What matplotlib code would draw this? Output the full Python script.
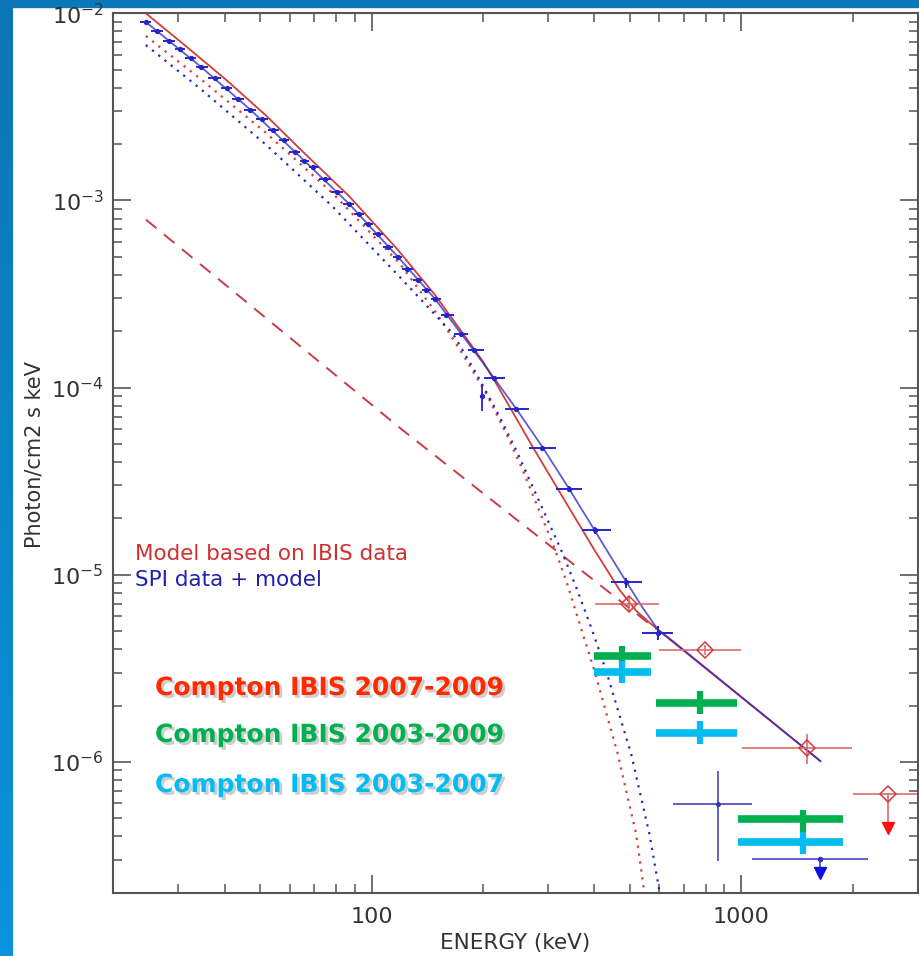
import numpy as np
import matplotlib
matplotlib.use('Agg')
import matplotlib.pyplot as plt
import matplotlib.patheffects as pe
from matplotlib.patches import Rectangle
from matplotlib.colors import LinearSegmentedColormap
from matplotlib.ticker import FuncFormatter, NullFormatter, LogLocator

# SPI spectrum: bin centres (keV), flux (photon/cm2 s keV), relative error
spi_e = [24.5, 26.2, 28.3, 30.3, 32.4, 34.5, 37.7, 40.5, 43.6, 47.0, 50.5, 54.1,
         57.9, 62.0, 65.7, 69.5, 74.6, 80.6, 86.9, 92.4, 97.8, 104, 110.5, 117.6,
         124.6, 133.5, 140.6, 148.1, 159.3, 174.8, 188.8, 214, 245, 289, 342, 403,
         488, 594]
spi_f = [8.98e-3, 8.04e-3, 7.13e-3, 6.42e-3, 5.74e-3, 5.18e-3, 4.52e-3, 3.99e-3,
         3.49e-3, 3.05e-3, 2.71e-3, 2.38e-3, 2.10e-3, 1.82e-3, 1.63e-3, 1.50e-3,
         1.30e-3, 1.115e-3, 9.58e-4, 8.51e-4, 7.48e-4, 6.58e-4, 5.67e-4, 5.01e-4,
         4.30e-4, 3.74e-4, 3.31e-4, 2.99e-4, 2.43e-4, 1.94e-4, 1.58e-4, 1.128e-4,
         7.70e-5, 4.76e-5, 2.87e-5, 1.73e-5, 9.09e-6, 4.91e-6]
spi_rerr = [0.015] * 31 + [0.02, 0.025, 0.03, 0.035, 0.04, 0.06, 0.09]

# odd SPI point near 200 keV (no energy bar)
spi_odd_e = 199
spi_odd_f = 9.07e-5
spi_odd_flo, spi_odd_fhi = 7.54e-5, 1.05e-4

# high energy SPI points
spi_hi_e = 863
spi_hi_elo, spi_hi_ehi = 652, 1070
spi_hi_f = 5.97e-7
spi_hi_flo, spi_hi_fhi = 2.95e-7, 8.94e-7
spi_ul_e = 1636
spi_ul_elo, spi_ul_ehi = 1072, 2196
spi_ul_f = 3.03e-7
spi_ul_tip = 2.55e-7

# IBIS points
ibis_e = [498, 798, 1502]
ibis_elo = [401, 599, 1002]
ibis_ehi = [598, 998, 1993]
ibis_f = [6.97e-6, 3.97e-6, 1.187e-6]
ibis_flo = [6.42e-6, 3.73e-6, 9.71e-7]
ibis_fhi = [7.56e-6, 4.22e-6, 1.406e-6]
ibis_ul_e = 2498
ibis_ul_elo, ibis_ul_ehi = 2000, 3200
ibis_ul_f = 6.71e-7
ibis_ul_tip = 4.41e-7

# Compton mode bins
comp_e = [476, 774, 1465]
comp_elo = [400, 586, 977]
comp_ehi = [568, 972, 1879]
comp_green = [3.66e-6, 2.07e-6, 4.93e-7]
comp_green_lo = [3.33e-6, 1.81e-6, 4.23e-7]
comp_green_hi = [4.17e-6, 2.39e-6, 5.51e-7]
comp_cyan = [3.04e-6, 1.42e-6, 3.74e-7]
comp_cyan_lo = [2.65e-6, 1.25e-6, 3.20e-7]
comp_cyan_hi = [3.47e-6, 1.655e-6, 4.23e-7]

# model curves
ibis_model_e = [24.5, 30.3, 40.5, 52.0, 65.7, 86.9, 117.6, 148.1, 174.8, 200,
                217.4, 273.0, 329.0, 396.6, 468.2, 520, 564.4, 620, 1636]
ibis_model_f = [1.0e-2, 7.09e-3, 4.39e-3, 2.82e-3, 1.79e-3, 1.054e-3, 5.46e-4,
                3.14e-4, 2.0e-4, 1.38e-4, 1.048e-4, 4.80e-5, 2.59e-5, 1.40e-5,
                8.3e-6, 6.4e-6, 5.55e-6, 4.75e-6, 1.01e-6]
spi_model_e = [24.5, 34.5, 47.0, 62.0, 86.9, 117.6, 148.1, 188.8, 214, 245, 289,
               342, 403, 450, 488, 540, 594, 650, 1636]
spi_model_f = [8.98e-3, 5.18e-3, 3.05e-3, 1.82e-3, 9.58e-4, 5.01e-4, 2.99e-4,
               1.58e-4, 1.128e-4, 7.8e-5, 4.85e-5, 2.88e-5, 1.70e-5, 1.19e-5,
               9.2e-6, 6.7e-6, 5.1e-6, 4.45e-6, 1.01e-6]
ibis_comp_e = [24.5, 34.3, 52.0, 78.6, 119.1, 149.7, 176.6, 204.3, 231.4, 256.6,
               281.6, 309.2, 336.0, 369.0, 400.8, 463.4, 519.6, 547.0]
ibis_comp_f = [7.56e-3, 4.49e-3, 2.28e-3, 1.088e-3, 4.60e-4, 2.50e-4, 1.50e-4,
               9.26e-5, 5.66e-5, 3.60e-5, 2.29e-5, 1.46e-5, 9.29e-6, 5.12e-6,
               3.06e-6, 1.098e-6, 4.10e-7, 1.99e-7]
spi_comp_e = [24.5, 34.3, 52.0, 78.6, 119.1, 165.9, 192.0, 217.4, 246.2, 273.0,
              299.8, 329.0, 357.6, 392.6, 431.0, 503.6, 564.4, 598.2, 602.6]
spi_comp_f = [6.77e-3, 3.97e-3, 1.97e-3, 9.23e-4, 3.90e-4, 1.94e-4, 1.185e-4,
              7.54e-5, 4.61e-5, 2.93e-5, 1.945e-5, 1.29e-5, 8.55e-6, 5.22e-6,
              3.06e-6, 1.098e-6, 4.10e-7, 2.12e-7, 1.99e-7]
pl_e = [24.5, 121.6, 588.4]
pl_f = [7.9e-4, 5.90e-5, 5.12e-6]

RED = '#d23c3c'
BLUE = '#2626c8'
GREEN = '#00b050'
CYAN = '#00bcf0'
AXC = '#555555'

W, H = 920, 956
fig = plt.figure(figsize=(W / 100, H / 100), dpi=100)
fig.patch.set_facecolor('white')

# blue frame on the left and top
band = fig.add_axes([0, 0, 13 / W, 1])
grad = np.linspace(0, 1, 256).reshape(-1, 1)
cm = LinearSegmentedColormap.from_list('frame', ['#0a93dc', '#0a76b6'])
band.imshow(grad, aspect='auto', cmap=cm, origin='lower', extent=[0, 1, 0, 1])
band.axis('off')
fig.add_artist(Rectangle((0, 1 - 7 / H), 1, 7 / H, transform=fig.transFigure,
                         color='#0a77b7', zorder=0))

x0, x1, y0, y1 = 113.3, 917.7, 13.3, 892.7
ax = fig.add_axes([x0 / W, 1 - y1 / H, (x1 - x0) / W, (y1 - y0) / H])
ax.set_xscale('log')
ax.set_yscale('log')
ax.set_xlim(20, 3000)
ax.set_ylim(2e-7, 1e-2)

# model curves
ax.plot(pl_e, pl_f, color='#c83c46', lw=1.4, dashes=(7, 5))
ax.plot(ibis_comp_e, ibis_comp_f, color=RED, lw=1.6, dashes=(1, 2.6))
ax.plot(spi_comp_e, spi_comp_f, color=BLUE, lw=1.6, dashes=(1, 2.6))
ax.plot(ibis_model_e, ibis_model_f, color=RED, lw=1.3)
ax.plot(spi_model_e, spi_model_f, color=BLUE, lw=1.3, alpha=0.75)

# SPI data
e = np.array(spi_e)
f = np.array(spi_f)
mid = np.sqrt(e[:-1] * e[1:])
edges = np.concatenate([[e[0] ** 2 / mid[0]], mid, [e[-1] ** 2 / mid[-1]]])
ax.errorbar(e, f, xerr=[e - edges[:-1], edges[1:] - e],
            yerr=f * np.array(spi_rerr), fmt='o', ms=2.8, color=BLUE,
            elinewidth=1.4, capsize=0)
ax.errorbar([spi_odd_e], [spi_odd_f],
            yerr=[[spi_odd_f - spi_odd_flo], [spi_odd_fhi - spi_odd_f]],
            fmt='o', ms=2.8, color=BLUE, elinewidth=1.3, capsize=0)
ax.errorbar([spi_hi_e], [spi_hi_f],
            xerr=[[spi_hi_e - spi_hi_elo], [spi_hi_ehi - spi_hi_e]],
            yerr=[[spi_hi_f - spi_hi_flo], [spi_hi_fhi - spi_hi_f]],
            fmt='o', ms=2.5, color='#3535b0', elinewidth=1.1, capsize=0)
ax.errorbar([spi_ul_e], [spi_ul_f],
            xerr=[[spi_ul_e - spi_ul_elo], [spi_ul_ehi - spi_ul_e]],
            fmt='o', ms=3, color='#3535c0', elinewidth=1.1, capsize=0)
ax.plot([spi_ul_e, spi_ul_e], [spi_ul_f, spi_ul_tip], color='#3535c0', lw=1.1)
ax.plot([spi_ul_e], [spi_ul_tip], marker='v', ms=8, color='#1010e0', ls='none')

# IBIS data
ie = np.array(ibis_e)
iff = np.array(ibis_f)
ax.errorbar(ie, iff, xerr=[ie - np.array(ibis_elo), np.array(ibis_ehi) - ie],
            yerr=[iff - np.array(ibis_flo), np.array(ibis_fhi) - iff],
            fmt='D', ms=8, mfc='none', mec=RED, mew=1.1, color=RED,
            ecolor='#e06a6a', elinewidth=1.2, capsize=0)
ax.errorbar([ibis_ul_e], [ibis_ul_f],
            xerr=[[ibis_ul_e - ibis_ul_elo], [ibis_ul_ehi - ibis_ul_e]],
            fmt='D', ms=8, mfc='none', mec=RED, mew=1.1, color=RED,
            ecolor='#e06a6a', elinewidth=1.2, capsize=0)
ax.plot([ibis_ul_e, ibis_ul_e], [ibis_ul_f, ibis_ul_tip], color='#e06a6a', lw=1.2)
ax.plot([ibis_ul_e], [ibis_ul_tip], marker='v', ms=8, color='#ff1010', ls='none')

# Compton mode bins
ce = np.array(comp_e)
for vals, lo, hi, col in [(comp_green, comp_green_lo, comp_green_hi, GREEN),
                          (comp_cyan, comp_cyan_lo, comp_cyan_hi, CYAN)]:
    v = np.array(vals)
    ax.hlines(v, comp_elo, comp_ehi, color=col, lw=5.5, capstyle='butt')
    ax.vlines(ce, lo, hi, color=col, lw=4.5, capstyle='butt')

# axes style
for s in ax.spines.values():
    s.set_color(AXC)
    s.set_linewidth(1.5)
ax.tick_params(which='both', direction='in', top=True, right=True, color=AXC,
               labelcolor='#333333', labelsize=16)
ax.tick_params(which='major', length=13, width=1.2, pad=10)
ax.tick_params(which='minor', length=6.5, width=1.1)
ax.yaxis.set_major_locator(LogLocator(base=10, numticks=10))
ax.yaxis.set_minor_locator(LogLocator(base=10, subs=np.arange(2, 10), numticks=20))
ax.xaxis.set_major_formatter(FuncFormatter(lambda v, p: f'{v:g}'))
ax.xaxis.set_minor_formatter(NullFormatter())
ax.yaxis.set_minor_formatter(NullFormatter())
ax.tick_params(axis='y', which='major', pad=7)

fig.text(35 / W, 1 - 455 / H, 'Photon/cm2 s keV', rotation=90, ha='center',
         va='center', fontsize=15, color='#333333')
fig.text(515 / W, 1 - 943 / H, 'ENERGY (keV)', ha='center', va='center',
         fontsize=15.5, color='#333333')

fig.text(135 / W, 1 - 554 / H, 'Model based on IBIS data', fontsize=15.5,
         color='#d03030', va='center')
fig.text(135 / W, 1 - 580 / H, 'SPI data + model', fontsize=15.5,
         color='#2020b0', va='center')

shadow = [pe.SimplePatchShadow(offset=(2, -2), shadow_rgbFace='0.45', alpha=0.35),
          pe.Normal()]
for txt, yy, col in [('Compton IBIS 2007-2009', 688, '#ff2a00'),
                     ('Compton IBIS 2003-2009', 735, GREEN),
                     ('Compton IBIS 2003-2007', 785, CYAN)]:
    fig.text(155 / W, 1 - yy / H, txt, fontsize=18, fontweight='bold', color=col,
             va='center', path_effects=shadow)

fig.savefig('out.png', dpi=100, facecolor='white')
